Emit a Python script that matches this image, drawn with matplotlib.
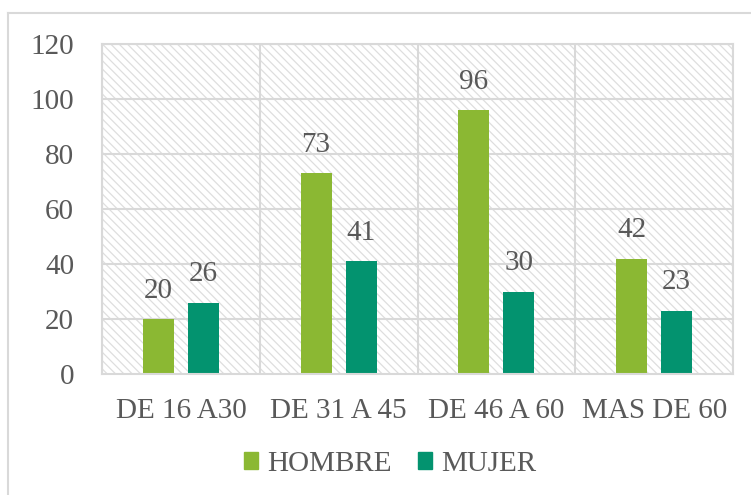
import matplotlib.pyplot as plt
import numpy as np
from matplotlib.patches import Rectangle, Patch
from matplotlib.lines import Line2D

# data
categories = ["DE 16 A30", "DE 31 A 45", "DE 46 A 60", "MAS DE 60"]
hombre = [20, 73, 96, 42]
mujer = [26, 41, 30, 23]

c_hombre = '#8BB833'
c_mujer = '#03936F'
grid_c = '#d9d9d9'
text_c = '#595959'

plt.rcParams['font.family'] = ['Liberation Serif', 'DejaVu Serif']
plt.rcParams['hatch.linewidth'] = 0.9

W, H = 751, 495
fig = plt.figure(figsize=(W / 100, H / 100), dpi=100)
ax = fig.add_axes([102 / W, (H - 374) / H, (733 - 102) / W, (374 - 44) / H])

# hatched plot-area background
bg = Rectangle((0, 0), 1, 1, transform=ax.transAxes, facecolor='white',
               edgecolor='#dedede', linewidth=0, hatch='\\\\\\\\', zorder=0)
ax.add_patch(bg)

x = np.arange(len(categories))
w = 0.197
off = 0.143
b1 = ax.bar(x - off, hombre, w, color=c_hombre, zorder=3)
b2 = ax.bar(x + off, mujer, w, color=c_mujer, zorder=3)

for bars in (b1, b2):
    for b in bars:
        h = b.get_height()
        ax.annotate(f'{h:.0f}', (b.get_x() + b.get_width() / 2, h),
                    xytext=(0, 11), textcoords='offset points',
                    ha='center', va='bottom', fontsize=21, color=text_c, zorder=4)

ax.set_xlim(-0.5, 3.5)
ax.set_ylim(0, 120)
ax.set_yticks(range(0, 121, 20))
ax.set_xticks(x)
ax.set_xticklabels(categories)
ax.tick_params(axis='both', length=0, labelsize=21, labelcolor=text_c)
ax.tick_params(axis='y', pad=20)
ax.tick_params(axis='x', pad=17)

for yv in range(20, 121, 20):
    ax.axhline(yv, color=grid_c, lw=1.5, zorder=1)
for xv in np.arange(-0.5, 3.6, 1):
    ax.axvline(xv, color=grid_c, lw=1.5, zorder=1)
for s in ax.spines.values():
    s.set_color(grid_c)
    s.set_linewidth(1.5)
ax.spines['bottom'].set_zorder(5)

handles = [Patch(color=c_hombre), Patch(color=c_mujer)]
fig.legend(handles, ['HOMBRE', 'MUJER'], loc='center',
           bbox_to_anchor=(390 / W, (H - 464) / H), ncol=2, frameon=False,
           fontsize=21, labelcolor=text_c, handlelength=0.5, handleheight=0.5,
           handletextpad=0.3, columnspacing=0.9)

# outer chart border (partly cropped in the original)
fig.add_artist(Line2D([8 / W, 1], [(H - 13) / H, (H - 13) / H], color=grid_c, lw=1.5))
fig.add_artist(Line2D([8 / W, 8 / W], [0, (H - 13) / H], color=grid_c, lw=1.5))

fig.savefig('out.png', dpi=100)
